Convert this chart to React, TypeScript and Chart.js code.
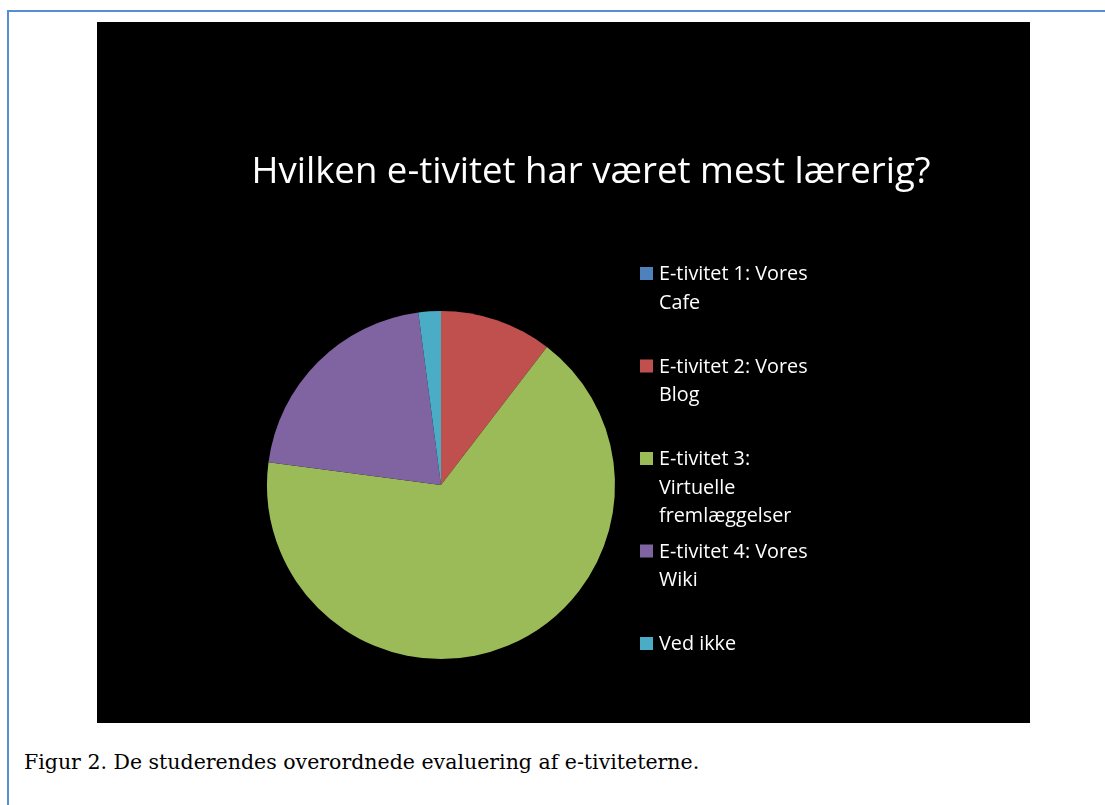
import React, { useEffect, useRef } from "react";
import { Chart, registerables } from "chart.js";

Chart.register(...registerables);

const chartTitle = "Hvilken e-tivitet har været mest lærerig?";
const categories = [
  "E-tivitet 1: Vores\nCafe",
  "E-tivitet 2: Vores\nBlog",
  "E-tivitet 3:\nVirtuelle\nfremlæggelser",
  "E-tivitet 4: Vores\nWiki",
  "Ved ikke",
];
const responses = [0, 5, 32, 10, 1];
const sliceColors = ["#4F81BD", "#C0504D", "#9BBB59", "#8064A2", "#4BACC6"];
const caption = "Figur 2. De studerendes overordnede evaluering af e-tiviteterne.";

const W = 933;
const H = 701;

const decorPlugin = {
  id: "decor",
  beforeDraw(chart: any) {
    const ctx = chart.ctx;
    ctx.save();
    ctx.fillStyle = "#000000";
    ctx.fillRect(0, 0, chart.width, chart.height);
    ctx.restore();
  },
  afterDraw(chart: any) {
    const ctx = chart.ctx;
    ctx.save();
    ctx.fillStyle = "#FFFFFF";
    ctx.textBaseline = "alphabetic";
    ctx.font = '36.6px "Open Sans"';
    ctx.textAlign = "center";
    ctx.fillText(chartTitle, 494, 161);

    ctx.textAlign = "left";
    ctx.font = '19.8px "Open Sans"';
    const labels = chart.data.labels as string[];
    const colors = chart.data.datasets[0].backgroundColor as string[];
    labels.forEach((lab, i) => {
      const base = 258 + i * 92.5;
      ctx.fillStyle = colors[i];
      ctx.fillRect(543, base - 13, 13, 13);
      ctx.fillStyle = "#FFFFFF";
      lab.split("\n").forEach((line, j) => {
        ctx.fillText(line, 562, base + j * 28.5);
      });
    });
    ctx.restore();
  },
};

export default function App() {
  const ref = useRef<HTMLCanvasElement>(null);
  useEffect(() => {
    if (!ref.current) return;
    const chart = new Chart(ref.current, {
      type: "pie",
      data: {
        labels: categories,
        datasets: [
          {
            data: responses,
            backgroundColor: sliceColors,
            borderWidth: 0,
          },
        ],
      },
      options: {
        animation: false,
        responsive: false,
        maintainAspectRatio: false,
        layout: { padding: { left: 170, top: 289, right: 415, bottom: 64 } },
        plugins: {
          legend: { display: false },
          title: { display: false },
          tooltip: { enabled: false },
        },
      },
      plugins: [decorPlugin],
    });
    return () => chart.destroy();
  }, []);

  return (
    <div>
      <div
        style={{
          position: "absolute",
          left: 7,
          top: 10,
          width: 1200,
          height: 900,
          borderLeft: "2px solid #558ED5",
          borderTop: "2px solid #558ED5",
          boxSizing: "border-box",
        }}
      />
      <canvas
        ref={ref}
        width={W}
        height={H}
        style={{ position: "absolute", left: 97, top: 22, width: W, height: H }}
      />
      <div
        style={{
          position: "absolute",
          left: 24,
          top: 752,
          fontFamily: '"DejaVu Serif"',
          fontSize: 20.5,
          lineHeight: 1,
          color: "#000",
          whiteSpace: "nowrap",
        }}
      >
        {caption}
      </div>
    </div>
  );
}
